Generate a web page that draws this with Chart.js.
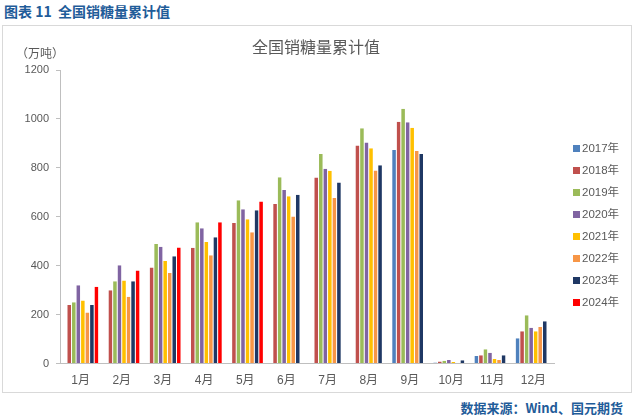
<!DOCTYPE html>
<html>
<head>
<meta charset="utf-8">
<script src="https://cdn.jsdelivr.net/npm/chart.js@4"></script>
<style>
  body { margin: 0; width: 635px; height: 418px; background: #fff; position: relative; overflow: hidden;
         font-family: "Liberation Sans", "Noto Sans CJK SC", sans-serif; }
  #header { position: absolute; left: 4px; top: 1px; font-size: 14px; font-weight: bold; color: #1F5C99;
            font-family: "Noto Sans CJK SC", sans-serif; }
  #box { position: absolute; left: 2px; top: 25px; width: 628px; height: 366px; border: 1px solid #D9D9D9; }
  #title { position: absolute; left: 252px; top: 36px; font-size: 16px; line-height: 20px; color: #595959;
           font-family: "Noto Sans CJK SC", sans-serif; white-space: nowrap; }
  #unit { position: absolute; left: 16px; top: 44px; font-size: 12px; color: #595959;
          font-family: "Noto Sans CJK SC", sans-serif; }
  #wrap { position: absolute; left: 3px; top: 26px; width: 628px; height: 366px; }
  #legend { position: absolute; left: 573px; top: 140px; font-size: 11.5px; color: #595959; }
  #legend div { height: 22px; line-height: 16px; white-space: nowrap; }
  #legend span { display: inline-block; width: 7px; height: 7px; margin-right: 2px; vertical-align: 0px; }
  #footer { position: absolute; right: 12px; top: 398px; font-size: 13px; font-weight: bold; color: #1F5C99;
            font-family: "Noto Sans CJK SC", sans-serif; }
</style>
</head>
<body>
<div id="header">图表 11&nbsp; 全国销糖量累计值</div>
<div id="box"></div>
<div id="wrap"><canvas id="chart"></canvas></div>
<div id="title">全国销糖量累计值</div>
<div id="unit">（万吨）</div>
<div id="legend"></div>
<div id="footer">数据来源：Wind、国元期货</div>
<script>
// months and yearly series (万吨)
const months = ['1月', '2月', '3月', '4月', '5月', '6月', '7月', '8月', '9月', '10月', '11月', '12月'];
const years = ['2017年', '2018年', '2019年', '2020年', '2021年', '2022年', '2023年', '2024年'];
const colors = ['#4F81BD', '#C0504D', '#9BBB59', '#8064A2', '#FFC000', '#F79646', '#1F3864', '#FF0000'];

const y2017 = [null, null, null, null, null, null, null, null, 873, 5, 31, 104];
const y2018 = [240, 300, 393, 474, 575, 652, 761, 891, 988, 9, 34, 132];
const y2019 = [251, 337, 489, 578, 668, 762, 857, 962, 1042, 12, 59, 198];
const y2020 = [320, 402, 478, 553, 631, 710, 796, 904, 986, 15, 44, 147];
const y2021 = [258, 340, 419, 497, 590, 684, 788, 880, 964, 7, 19, 132];
const y2022 = [209, 273, 370, 443, 537, 601, 677, 789, 869, 2, 15, 150];
const y2023 = [239, 337, 439, 516, 627, 690, 740, 811, 857, 14, 34, 173];
const y2024 = [314, 381, 475, 578, 663, null, null, null, null, null, null, null];
const series = [y2017, y2018, y2019, y2020, y2021, y2022, y2023, y2024];

const yTicks = [0, 200, 400, 600, 800, 1000, 1200];

// legend on the right, built from the same year/colour lists
const legendEl = document.getElementById('legend');
years.forEach((y, i) => {
    const row = document.createElement('div');
    row.innerHTML = '<span style="background:' + colors[i] + '"></span>' + y;
    legendEl.appendChild(row);
});

const ctx = document.getElementById('chart').getContext('2d');
const chart = new Chart(ctx, {
    type: 'bar',
    data: {
        labels: months,
        datasets: series.map((d, i) => ({
            label: years[i],
            data: d,
            backgroundColor: colors[i],
            borderColor: '#ffffff',
            borderWidth: { left: 0.5, right: 0.5, top: 0, bottom: 0 },
            barPercentage: 1.0,
            categoryPercentage: 0.88
        }))
    },
    options: {
        responsive: true,
        maintainAspectRatio: false,
        animation: false,
        layout: { padding: { top: 44, left: 0, right: 77, bottom: 2 } },
        plugins: {
            title: { display: false },
            legend: { display: false },
            tooltip: { enabled: false }
        },
        scales: {
            x: {
                grid: { display: false },
                border: { display: true, color: '#BFBFBF', width: 1 },
                ticks: {
                    color: '#595959',
                    font: { size: 12, family: '"Liberation Sans", "Noto Sans CJK SC", sans-serif' },
                    maxRotation: 0,
                    padding: 2
                }
            },
            y: {
                min: 0,
                max: 1200,
                afterBuildTicks: axis => { axis.ticks = yTicks.map(v => ({ value: v })); },
                afterFit: axis => { axis.width = 57; },
                grid: { display: true, drawOnChartArea: false, drawTicks: true, tickLength: 4, color: '#BFBFBF' },
                border: { display: true, color: '#BFBFBF', width: 1 },
                ticks: {
                    color: '#595959',
                    font: { size: 11, family: '"Liberation Sans", sans-serif' },
                    padding: 7,
                    callback: v => String(v)
                }
            }
        }
    }
});
</script>
</body>
</html>
